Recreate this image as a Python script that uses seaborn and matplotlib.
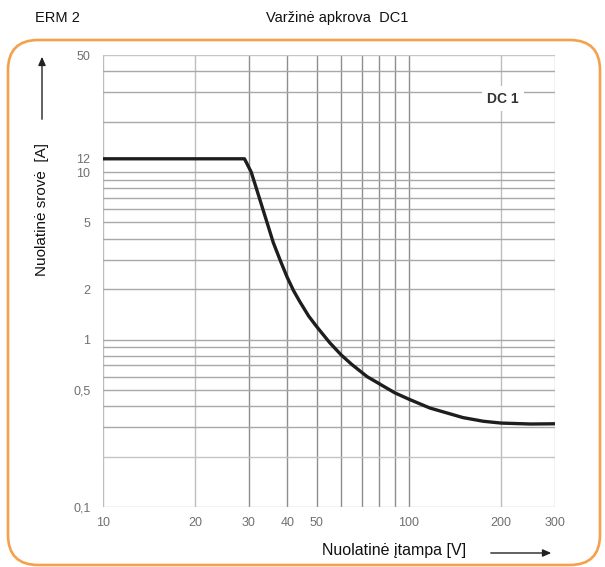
import numpy as np
import pandas as pd
import matplotlib
matplotlib.use("Agg")
import matplotlib.pyplot as plt
from matplotlib.patches import FancyBboxPatch, FancyArrowPatch
import seaborn as sns

# ---- data ----
voltage = [10, 29, 30.5, 31.7, 33.3, 34.6, 36, 38, 40, 42, 44, 47, 50, 55, 60, 65,
           73, 82, 90, 100, 117, 150, 175, 200, 250, 300]
current = [12, 12, 10, 8, 6, 4.8, 3.8, 2.95, 2.35, 1.95, 1.68, 1.38, 1.19, 0.96, 0.81, 0.71,
           0.6, 0.53, 0.48, 0.44, 0.39, 0.342, 0.325, 0.317, 0.313, 0.314]

x_grid = [10, 20, 30, 40, 50, 60, 70, 80, 90, 100, 200, 300]
y_grid = [0.1, 0.2, 0.3, 0.4, 0.5, 0.6, 0.7, 0.8, 0.9, 1, 2, 3, 4, 5, 6, 7, 8, 9, 10, 20, 30, 40, 50]
x_ticks = [10, 20, 30, 40, 50, 100, 200, 300]
x_tick_labels = ["10", "20", "30", "40", "50", "100", "200", "300"]
y_ticks = [0.1, 0.5, 1, 2, 5, 10, 12, 50]
y_tick_labels = ["0,1", "0,5", "1", "2", "5", "10", "12", "50"]

title_left = "ERM 2"
title_center = "Varžinė apkrova  DC1"
y_label = "Nuolatinė srovė  [A]"
x_label = "Nuolatinė įtampa [V]"
curve_label = "DC 1"

df = pd.DataFrame({"U": voltage, "I": current})

sns.set_style("white")
plt.rcParams["font.family"] = ["Liberation Sans", "DejaVu Sans"]

W, H = 605, 567
fig = plt.figure(figsize=(W / 100, H / 100), dpi=100)

def fx(px):
    return px / W

def fy(py):
    return 1 - py / H

# orange rounded frame
frame = FancyBboxPatch((fx(8), fy(565)), fx(600) - fx(8), fy(40) - fy(565),
                       boxstyle="round,pad=0,rounding_size=0.05",
                       transform=fig.transFigure, fill=False,
                       edgecolor="#F5A04D", linewidth=1.9,
                       mutation_aspect=W / H)
fig.patches.append(frame)

ax = fig.add_axes([fx(103), fy(507), fx(555) - fx(103), fy(55) - fy(507)])
ax.set_xscale("log")
ax.set_yscale("log")
ax.set_xlim(10, 300)
ax.set_ylim(0.1, 50)

for xv in x_grid:
    c = "#bdbdbd" if xv in (10, 20, 200, 300) else "#8e8e8e"
    ax.axvline(xv, color=c, linewidth=1.0, zorder=1)
for yv in y_grid:
    c = "#c4c4c4" if yv in (0.1, 0.2, 50) else "#a8a8a8"
    ax.axhline(yv, color=c, linewidth=1.0, zorder=1)

sns.lineplot(data=df, x="U", y="I", ax=ax, color="#1e1e1e", linewidth=2.4,
             zorder=3, legend=False)
ax.lines[-1].set_solid_joinstyle("round")

for s in ax.spines.values():
    s.set_visible(False)

ax.xaxis.set_major_locator(matplotlib.ticker.FixedLocator(x_ticks))
ax.xaxis.set_major_formatter(matplotlib.ticker.FixedFormatter(x_tick_labels))
ax.xaxis.set_minor_locator(matplotlib.ticker.NullLocator())
ax.yaxis.set_major_locator(matplotlib.ticker.FixedLocator(y_ticks))
ax.yaxis.set_major_formatter(matplotlib.ticker.FixedFormatter(y_tick_labels))
ax.yaxis.set_minor_locator(matplotlib.ticker.NullLocator())
ax.tick_params(axis="both", length=0, labelsize=9, labelcolor="#707070")
ax.tick_params(axis="x", pad=7)
ax.tick_params(axis="y", pad=9)
ax.set_xlabel("")
ax.set_ylabel("")
ax.grid(False)

ax.text(0.885, 0.903, curve_label, transform=ax.transAxes, ha="center", va="center",
        fontsize=10, fontweight="bold", color="#333333", zorder=4,
        bbox=dict(facecolor="white", edgecolor="none", pad=4))

fig.text(fx(35), fy(18), title_left, ha="left", va="center", fontsize=10.5,
         color="#111111")
fig.text(fx(337), fy(18), title_center, ha="center", va="center", fontsize=10.5,
         color="#111111")
fig.text(fx(42), fy(210), y_label, ha="center", va="center", rotation=90,
         fontsize=11, color="#111111")
fig.text(fx(394), fy(551), x_label, ha="center", va="center",
         fontsize=11.5, color="#111111")

up = FancyArrowPatch((fx(42), fy(122)), (fx(42), fy(54)), transform=fig.transFigure,
                     arrowstyle="-|>,head_length=5,head_width=2.2", color="#222222",
                     linewidth=1.0, mutation_scale=1)
fig.patches.append(up)
right = FancyArrowPatch((fx(488), fy(553)), (fx(554), fy(553)), transform=fig.transFigure,
                        arrowstyle="-|>,head_length=5,head_width=2.2", color="#222222",
                        linewidth=1.0, mutation_scale=1)
fig.patches.append(right)

fig.savefig("out.png", dpi=100)
